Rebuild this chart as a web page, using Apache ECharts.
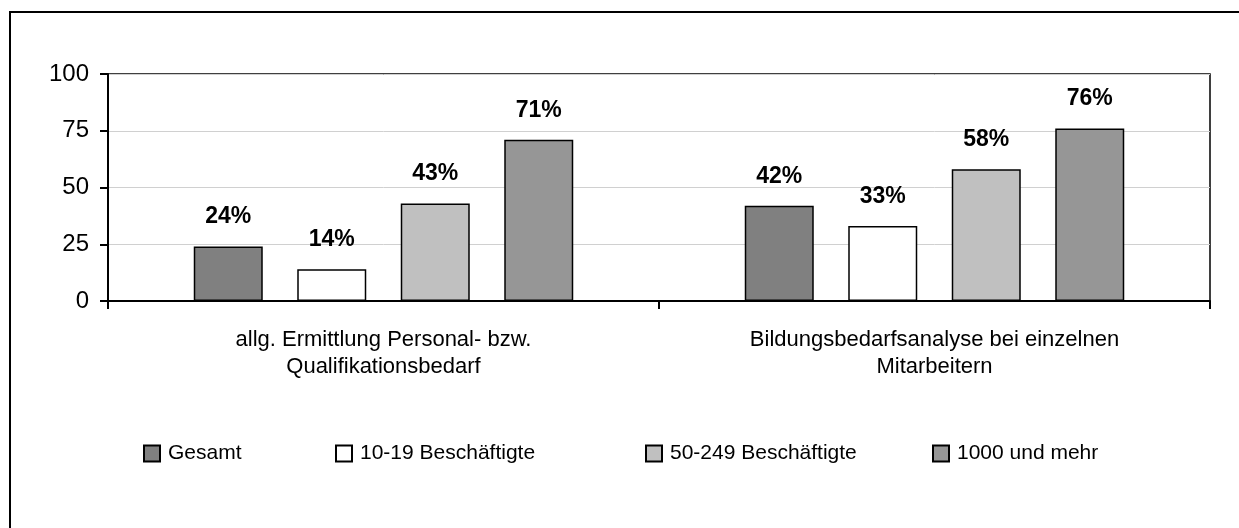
<!DOCTYPE html>
<html>
<head>
<meta charset="utf-8">
<script src="https://cdn.jsdelivr.net/npm/echarts@6/dist/echarts.min.js"></script>
<style>
  html, body { margin: 0; padding: 0; background: #fff; }
  #main { width: 1239px; height: 528px; }
</style>
</head>
<body>
<div id="main"></div>
<script>
// Daten
var categories = [
  "allg. Ermittlung Personal- bzw.\nQualifikationsbedarf",
  "Bildungsbedarfsanalyse bei einzelnen\nMitarbeitern"
];
var seriesNames = ["Gesamt", "10-19 Beschäftigte", "50-249 Beschäftigte", "1000 und mehr"];
var gesamt = [24, 42];
var klein = [14, 33];
var mittel = [43, 58];
var gross = [71, 76];
var yTicks = [0, 25, 50, 75, 100];

var colors = ["#808080", "#ffffff", "#c0c0c0", "#969696"];
var values = [gesamt, klein, mittel, gross];
var legendLeft = [138, 330, 640, 927];

var font = "Liberation Sans, Arial, sans-serif";

var series = seriesNames.map(function (name, i) {
  return {
    name: name,
    type: "bar",
    data: values[i],
    barWidth: 69,
    barGap: "50%",
    itemStyle: { color: colors[i], borderColor: "#000", borderWidth: 1.5 },
    label: {
      show: true,
      position: "top",
      distance: 18,
      formatter: "{c}%",
      fontFamily: font,
      fontWeight: "bold",
      fontSize: 23,
      color: "#000"
    },
    emphasis: { disabled: true }
  };
});

var legends = seriesNames.map(function (name, i) {
  return {
    data: [name],
    left: legendLeft[i],
    top: 438,
    itemWidth: 16,
    itemHeight: 16,
    itemGap: 0,
    icon: "rect",
    selectedMode: false,
    textStyle: { fontFamily: font, fontSize: 21, color: "#000", padding: [0, 0, 0, 3] }
  };
});

var chart = echarts.init(document.getElementById("main"));
chart.setOption({
  animation: false,
  backgroundColor: "#fff",
  graphic: [{
    type: "rect",
    shape: { x: 10, y: 12, width: 1400, height: 700 },
    style: { fill: "none", stroke: "#000", lineWidth: 2 },
    silent: true
  }],
  legend: legends,
  grid: {
    left: 108,
    right: 29,
    top: 74,
    bottom: 227,
    show: true,
    borderColor: "#000",
    borderWidth: 1.5
  },
  xAxis: {
    type: "category",
    data: categories,
    axisLine: { lineStyle: { color: "#000", width: 2 } },
    axisTick: { show: true, length: 8, lineStyle: { color: "#000", width: 2 } },
    axisLabel: {
      fontFamily: font,
      fontSize: 22,
      color: "#000",
      lineHeight: 27,
      margin: 25
    }
  },
  yAxis: {
    type: "value",
    min: yTicks[0],
    max: yTicks[yTicks.length - 1],
    interval: 25,
    axisLine: { show: true, lineStyle: { color: "#000", width: 2 } },
    axisTick: { show: true, length: 8, lineStyle: { color: "#000", width: 2 } },
    axisLabel: { fontFamily: font, fontSize: 24, color: "#000", margin: 19 },
    splitLine: { lineStyle: { color: "#d0d0d0", width: 1 } }
  },
  series: series
});
</script>
</body>
</html>
